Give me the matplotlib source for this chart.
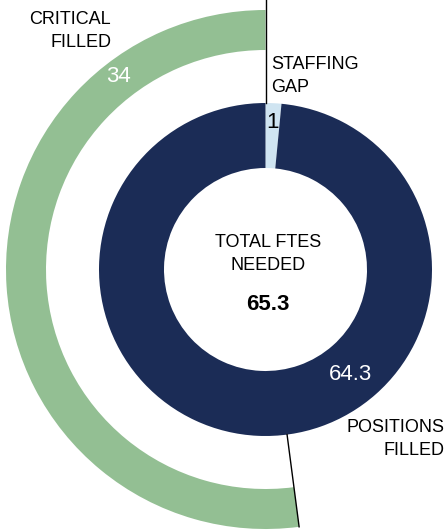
import numpy as np
import matplotlib
matplotlib.use("Agg")
import matplotlib.pyplot as plt

# data
inner_labels = ["STAFFING\nGAP", "POSITIONS\nFILLED"]
inner_values = [1, 64.3]
critical_filled = 34
total_needed = 65.3

navy = "#1b2c56"
light_blue = "#cfe4f1"
green = "#93bf93"

plt.rcParams["font.family"] = ["Liberation Sans", "DejaVu Sans"]

fig = plt.figure(figsize=(4.48, 5.31), dpi=100)
ax = fig.add_axes([0, 0, 1, 1])
ax.axis("off")

cx, cy = 265.5, 531 - 269.5
r_in, w_in = 166.5, 65
r_out, w_out = 259.5, 40

# inner donut
ax.pie(inner_values, startangle=90, counterclock=False, radius=r_in, center=(cx, cy),
       colors=[light_blue, navy], wedgeprops=dict(width=w_in, linewidth=0))

# outer ring (critical filled share of total)
ax.pie([critical_filled, total_needed - critical_filled], startangle=90, counterclock=True,
       radius=r_out, center=(cx, cy), colors=[green, "none"],
       wedgeprops=dict(width=w_out, linewidth=0))
ax.set_xlim(0, 448)
ax.set_ylim(0, 531)
ax.set_aspect("equal")

# boundary lines of the green arc
a0 = np.deg2rad(90)
a1 = np.deg2rad(90 + 360 * critical_filled / total_needed)
ax.plot([cx + r_in * np.cos(a0), cx + 275 * np.cos(a0)],
        [cy + r_in * np.sin(a0), cy + 275 * np.sin(a0)], color="black", lw=1)
ax.plot([cx + r_in * np.cos(a1), cx + r_out * np.cos(a1)],
        [cy + r_in * np.sin(a1), cy + r_out * np.sin(a1)], color="black", lw=1)

# labels
ax.text(111, 531 - 31, "CRITICAL\nFILLED", ha="right", va="center", fontsize=13,
        linespacing=1.4)
ax.text(118, 531 - 77, f"{critical_filled}", ha="center", va="center", fontsize=16,
        color="white")
ax.text(271, 531 - 76, inner_labels[0], ha="left", va="center", fontsize=13,
        linespacing=1.4)
ax.text(272, 531 - 123, f"{inner_values[0]}", ha="center", va="center", fontsize=16,
        color="black")
ax.text(268, 531 - 254, "TOTAL FTES\nNEEDED", ha="center", va="center", fontsize=13,
        linespacing=1.4)
ax.text(268, 531 - 305, f"{total_needed}", ha="center", va="center", fontsize=16,
        fontweight="bold")
ax.text(350, 531 - 374, f"{inner_values[1]}", ha="center", va="center", fontsize=16,
        color="white")
ax.text(445, 531 - 439, inner_labels[1], ha="right", va="center", fontsize=13,
        linespacing=1.4)

fig.savefig("out.png", dpi=100)
